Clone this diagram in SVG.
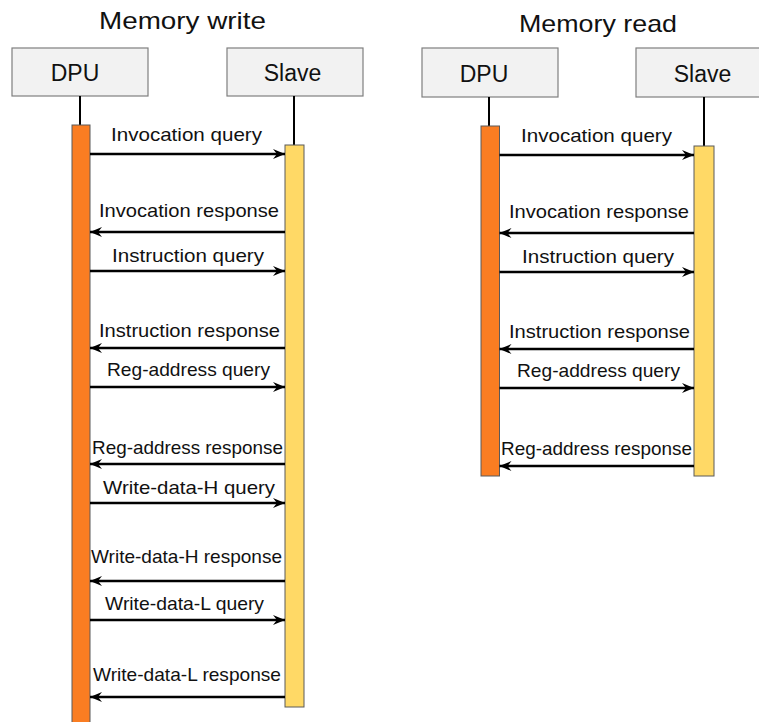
<svg xmlns="http://www.w3.org/2000/svg" width="759" height="722" viewBox="0 0 759 722">
  <style>
    .title { font-family: "Liberation Sans", Arial, sans-serif; font-size: 24px; fill: #111; }
    .box { fill: #f2f2f2; stroke: #7f7f7f; stroke-width: 1.2; }
    .actor text { font-family: "Liberation Sans", Arial, sans-serif; font-size: 23px; fill: #111; text-anchor: middle; }
    .life { stroke: #000; stroke-width: 2; }
    .bar-dpu { fill: #fa7d22; stroke: #5a5a5a; stroke-width: 1; }
    .bar-slave { fill: #ffd966; stroke: #5a5a5a; stroke-width: 1; }
    .msg line { stroke: #000; stroke-width: 2.5; marker-end: url(#head); }
    .msg text { font-family: "Liberation Sans", Arial, sans-serif; font-size: 18.5px; fill: #111; }
  </style>
  <defs>
    <marker id="head" viewBox="0 0 12 10" refX="12" refY="5" markerWidth="12" markerHeight="10" markerUnits="userSpaceOnUse" orient="auto">
      <path d="M0,0 L12,5 L0,10 L4,5 Z" fill="#000"/>
    </marker>
  </defs>
  <rect width="759" height="722" fill="#fff"/>

  <!-- Memory write sequence -->
  <g id="write">
    <text class="title" x="99" y="29" textLength="167" lengthAdjust="spacingAndGlyphs">Memory write</text>
    <g id="write-dpu" class="actor">
      <rect class="box" x="12" y="48" width="136" height="48"/>
      <text x="75" y="81">DPU</text>
      <line class="life" x1="80" y1="96" x2="80" y2="125"/>
      <rect class="bar-dpu" x="72" y="125" width="18" height="605"/>
    </g>
    <g id="write-slave" class="actor">
      <rect class="box" x="227" y="48" width="136" height="48"/>
      <text x="292.5" y="81">Slave</text>
      <line class="life" x1="294" y1="96" x2="294" y2="145"/>
      <rect class="bar-slave" x="285" y="145" width="19" height="562"/>
    </g>
    <g id="write-messages" class="msg">
      <line x1="90" y1="154" x2="285" y2="154"/>
      <text x="111" y="141" textLength="151" lengthAdjust="spacingAndGlyphs">Invocation query</text>
      <line x1="285" y1="232" x2="90" y2="232"/>
      <text x="99" y="217" textLength="180" lengthAdjust="spacingAndGlyphs">Invocation response</text>
      <line x1="90" y1="271" x2="285" y2="271"/>
      <text x="112" y="262" textLength="152" lengthAdjust="spacingAndGlyphs">Instruction query</text>
      <line x1="285" y1="348" x2="90" y2="348"/>
      <text x="99" y="337" textLength="181" lengthAdjust="spacingAndGlyphs">Instruction response</text>
      <line x1="90" y1="387" x2="285" y2="387"/>
      <text x="107" y="376" textLength="163" lengthAdjust="spacingAndGlyphs">Reg-address query</text>
      <line x1="285" y1="464" x2="90" y2="464"/>
      <text x="92" y="454" textLength="191" lengthAdjust="spacingAndGlyphs">Reg-address response</text>
      <line x1="90" y1="503" x2="285" y2="503"/>
      <text x="103" y="494" textLength="172" lengthAdjust="spacingAndGlyphs">Write-data-H query</text>
      <line x1="285" y1="581" x2="90" y2="581"/>
      <text x="91" y="563" textLength="191" lengthAdjust="spacingAndGlyphs">Write-data-H response</text>
      <line x1="90" y1="620" x2="285" y2="620"/>
      <text x="105" y="610" textLength="159" lengthAdjust="spacingAndGlyphs">Write-data-L query</text>
      <line x1="285" y1="697" x2="90" y2="697"/>
      <text x="93" y="681" textLength="188" lengthAdjust="spacingAndGlyphs">Write-data-L response</text>
    </g>
  </g>

  <!-- Memory read sequence -->
  <g id="read">
    <text class="title" x="519" y="32" textLength="158" lengthAdjust="spacingAndGlyphs">Memory read</text>
    <g id="read-dpu" class="actor">
      <rect class="box" x="422" y="48" width="136" height="49"/>
      <text x="484" y="82">DPU</text>
      <line class="life" x1="489" y1="97" x2="489" y2="126"/>
      <rect class="bar-dpu" x="481" y="126" width="18.5" height="350"/>
    </g>
    <g id="read-slave" class="actor">
      <rect class="box" x="636" y="48" width="136" height="49"/>
      <text x="702.5" y="82">Slave</text>
      <line class="life" x1="704" y1="97" x2="704" y2="146"/>
      <rect class="bar-slave" x="694" y="146" width="20" height="330"/>
    </g>
    <g id="read-messages" class="msg">
      <line x1="499.5" y1="155" x2="694" y2="155"/>
      <text x="521" y="142" textLength="151" lengthAdjust="spacingAndGlyphs">Invocation query</text>
      <line x1="694" y1="233" x2="499.5" y2="233"/>
      <text x="509" y="218" textLength="180" lengthAdjust="spacingAndGlyphs">Invocation response</text>
      <line x1="499.5" y1="272" x2="694" y2="272"/>
      <text x="522" y="263" textLength="152" lengthAdjust="spacingAndGlyphs">Instruction query</text>
      <line x1="694" y1="349" x2="499.5" y2="349"/>
      <text x="509" y="338" textLength="181" lengthAdjust="spacingAndGlyphs">Instruction response</text>
      <line x1="499.5" y1="388" x2="694" y2="388"/>
      <text x="517" y="377" textLength="163" lengthAdjust="spacingAndGlyphs">Reg-address query</text>
      <line x1="694" y1="466" x2="499.5" y2="466"/>
      <text x="501" y="455" textLength="191" lengthAdjust="spacingAndGlyphs">Reg-address response</text>
    </g>
  </g>
</svg>
